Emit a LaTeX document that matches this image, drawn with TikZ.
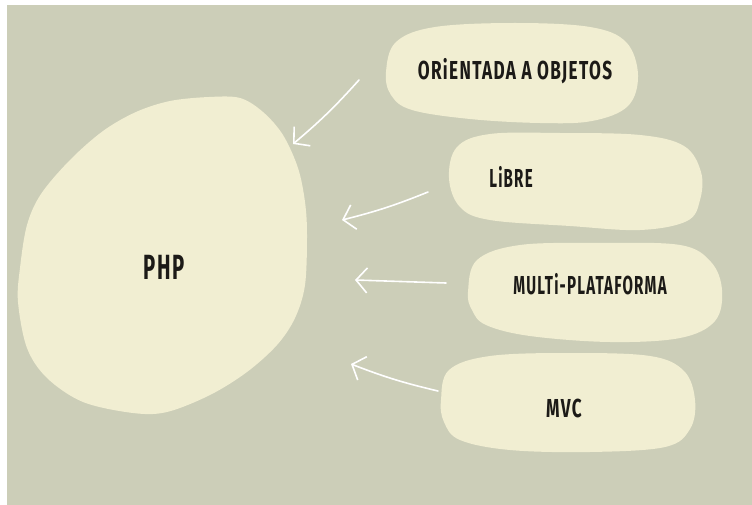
\documentclass[tikz,border=0pt]{standalone}
\usepackage{fontspec}
\usepackage{graphicx}
\setmainfont{Fira Sans}
\newfontfamily\handfont[LetterSpace=8]{Fira Sans Bold}
\newcommand{\cond}[1]{\scalebox{0.66}[1]{#1}}
\newcommand{\condnarrow}[1]{\scalebox{0.58}[1]{#1}}
\newcommand{\condbig}[1]{\scalebox{0.58}[1]{#1}}
\usetikzlibrary{arrows.meta}
\definecolor{bgcol}{HTML}{CCCEB8}
\definecolor{blobcol}{HTML}{F1EED2}
\definecolor{inkcol}{HTML}{1C1A17}
\tikzset{
  blob/.style={fill=blobcol, draw=none},
  lbl/.style={text=inkcol, inner sep=0pt, font=\handfont\fontsize{26}{28}\selectfont},
  bigl/.style={text=inkcol, inner sep=0pt, font=\handfont\fontsize{35}{37}\selectfont},
  whitearrow/.style={draw=white, line width=1.6pt, line cap=round,
    -{Straight Barb[length=11pt,width=25pt,line width=1.6pt]}}
}
\begin{document}
\begin{tikzpicture}[x=1pt,y=-1pt]
\useasboundingbox (0,0) rectangle (752,505);
\fill[white] (0,0) rectangle (752,505);
\fill[bgcol] (7,5) rectangle (752,505);
% PHP blob
\fill[blob] plot[smooth cycle, tension=0.55] coordinates {
 (209,97) (240,98) (263,112) (283,135) (298,168) (305,202) (307,235) (305,285)
 (295,318) (277,345) (247,372) (210,395) (167,412) (133,413) (83,402) (47,378)
 (27,348) (18,302) (20,268) (27,225) (41,194) (70,160) (103,131) (136,112) (170,101)};
% ORIENTADA blob
\fill[blob] plot[smooth cycle, tension=0.6] coordinates {
 (386,72) (396,42) (435,27) (515,23) (590,27) (626,42) (638,75) (628,106)
 (592,121) (540,123) (470,119) (412,110) (391,95)};
% LIBRE blob
\fill[blob] plot[smooth cycle, tension=0.6] coordinates {
 (449,178) (457,147) (490,134) (560,133) (640,135) (684,146) (701,172) (700,200)
 (687,221) (640,230) (570,226) (490,220) (460,207)};
% MULTI blob
\fill[blob] plot[smooth cycle, tension=0.6] coordinates {
 (468,292) (477,260) (520,245) (600,243) (680,245) (711,262) (722,290) (715,321)
 (680,338) (610,342) (530,336) (486,325) (472,310)};
% MVC blob
\fill[blob] plot[smooth cycle, tension=0.6] coordinates {
 (441,400) (449,370) (490,356) (570,353) (650,356) (684,371) (695,400) (690,429)
 (665,447) (590,452) (510,450) (460,440) (444,422)};
% labels
\node[bigl] (php) at (164,267) {\condbig{PHP}};
\node[lbl] (ori) at (515,71) {\cond{ORiENTADA A OBJETOS}};
\node[lbl] (libre) at (511,177) {\condnarrow{LiBRE}};
\node[lbl] (multi) at (590,284) {\condnarrow{MULTi-PLATAFORMA}};
\node[lbl] (mvc) at (564,408) {\cond{MVC}};
% arrow end points
\coordinate (a1s) at (359,80);  \coordinate (a1e) at (293,144);
\coordinate (a2s) at (428,192); \coordinate (a2e) at (342,220);
\coordinate (a3s) at (446,283); \coordinate (a3e) at (355,280);
\coordinate (a4s) at (438,391); \coordinate (a4e) at (351,364);
\draw[whitearrow] (a1s) to[bend left=4] (a1e);
\draw[whitearrow] (a2s) to[bend left=4] (a2e);
\draw[whitearrow] (a3s) to (a3e);
\draw[whitearrow] (a4s) to[bend left=4] (a4e);
\end{tikzpicture}
\end{document}
